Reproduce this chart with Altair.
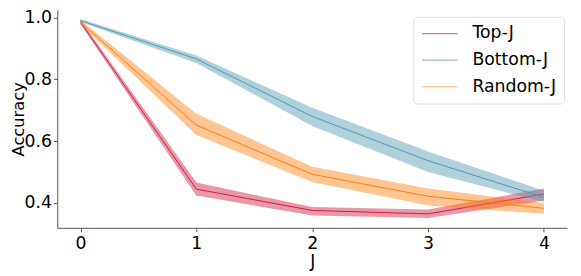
import altair as alt
import pandas as pd

J = [0, 1, 2, 3, 4]
series_names = ["Top-J", "Bottom-J", "Random-J"]
top_mean = [0.985, 0.445, 0.376, 0.365, 0.429]
top_lo = [0.978, 0.424, 0.360, 0.352, 0.408]
top_hi = [0.992, 0.466, 0.387, 0.379, 0.447]
bottom_mean = [0.990, 0.866, 0.680, 0.537, 0.418]
bottom_lo = [0.985, 0.853, 0.649, 0.500, 0.403]
bottom_hi = [0.995, 0.877, 0.708, 0.567, 0.440]
random_mean = [0.985, 0.652, 0.493, 0.422, 0.383]
random_lo = [0.978, 0.620, 0.468, 0.392, 0.365]
random_hi = [0.992, 0.689, 0.517, 0.447, 0.400]
colors = ["#cf1b3e", "#4f98b0", "#ff7f0e"]

rows = []
for name, m, lo, hi in [
    ("Top-J", top_mean, top_lo, top_hi),
    ("Bottom-J", bottom_mean, bottom_lo, bottom_hi),
    ("Random-J", random_mean, random_lo, random_hi),
]:
    for j, a, b, c in zip(J, m, lo, hi):
        rows.append({"J": j, "series": name, "mean": a, "lo": b, "hi": c})
df = pd.DataFrame(rows)

FONT = "DejaVu Sans"
FS = 17.5
xscale = alt.Scale(domain=[-0.2, 4.2], nice=False, zero=False)
yscale = alt.Scale(domain=[0.320, 1.0245], nice=False, zero=False)
cscale = alt.Scale(domain=series_names, range=colors)

xaxis = alt.Axis(values=J, format="d", title="J", grid=False, domainColor="#555",
                 tickColor="#555", tickSize=4, labelFontSize=FS, titleFontSize=FS,
                 labelFont=FONT, titleFont=FONT, titleFontWeight="normal",
                 labelColor="black", titleColor="black", labelPadding=3, titlePadding=1)
yaxis = alt.Axis(values=[0.4, 0.6, 0.8, 1.0], format=".1f", title="Accuracy", grid=False,
                 domainColor="#555", tickColor="#555", tickSize=4, labelFontSize=FS,
                 titleFontSize=16.5, labelFont=FONT, titleFont=FONT, titleFontWeight="normal",
                 labelColor="black", titleColor="black", labelPadding=2, titleX=-31)

layers = []
for i, name in enumerate(series_names):
    sub = df[df.series == name]
    band = alt.Chart(sub).mark_area(opacity=0.45, strokeWidth=0, color=colors[i]).encode(
        x=alt.X("J:Q", scale=xscale, axis=xaxis),
        y=alt.Y("lo:Q", scale=yscale, axis=yaxis),
        y2="hi:Q",
    )
    line = alt.Chart(sub).mark_line(strokeWidth=1).encode(
        x=alt.X("J:Q", scale=xscale, axis=xaxis),
        y=alt.Y("mean:Q", scale=yscale, axis=yaxis),
        color=alt.Color("series:N", scale=cscale, legend=alt.Legend(
            title=None, orient="none", legendX=361, legendY=7,
            symbolType="M-1,0H3.5", symbolSize=256, symbolStrokeWidth=1.2,
            symbolOpacity=0.6, labelFontSize=FS, labelFont=FONT, labelColor="black",
            labelOffset=34, rowPadding=9, padding=8, strokeColor="#dddddd",
            cornerRadius=4, fillColor="white")),
    )
    layers += [band, line]

chart = alt.layer(*layers).properties(
    width=517, height=221,
    padding={"left": 50, "top": 0, "right": 6, "bottom": 47},
    autosize=alt.AutoSizeParams(type="none"),
).configure_view(stroke=None).configure_axis(domainWidth=1)

chart.save("out.html", embed_options={"renderer": "svg", "actions": False})
